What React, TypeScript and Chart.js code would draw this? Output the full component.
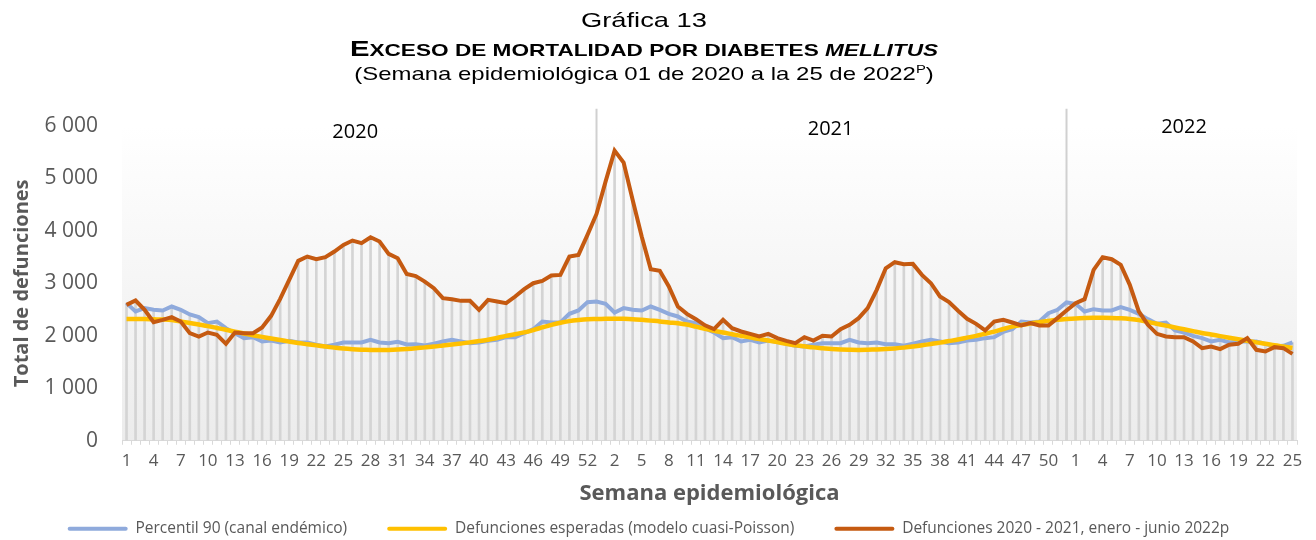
import React, { useEffect, useRef } from "react";
import { Chart, registerables } from "chart.js";

Chart.register(...registerables);

// ---- categories (epidemiological weeks) ----
const weeks2020 = Array.from({ length: 53 }, (_, i) => i + 1);
const weeks2021 = Array.from({ length: 52 }, (_, i) => i + 1);
const weeks2022 = Array.from({ length: 25 }, (_, i) => i + 1);
const categories = [...weeks2020, ...weeks2021, ...weeks2022].map(String);

const yearNames = ["2020", "2021", "2022"];

// ---- series ----
const percentil90 = [
  2623, 2464, 2528, 2496, 2483, 2559, 2496, 2407, 2356, 2242, 2273, 2146, 2051, 1956, 1975, 1892, 1911, 1873, 1905, 1873,
  1873, 1829, 1797, 1829, 1873, 1873, 1873, 1924, 1873, 1860, 1886, 1835, 1840,
  1816, 1848, 1892, 1924, 1892, 1860, 1873, 1905, 1924, 1975, 1975, 2051, 2127, 2273, 2254, 2254, 2419, 2483, 2642, 2654,
  2610, 2445, 2528, 2496, 2483, 2559, 2496, 2419, 2369, 2273, 2242, 2140,
  2063, 1956, 1975, 1892, 1924, 1873, 1911, 1880, 1848, 1810, 1797, 1829, 1860, 1860, 1860, 1924, 1873, 1860, 1873, 1841,
  1841, 1810, 1848, 1892, 1924, 1892, 1860, 1873, 1911, 1924, 1956, 1975, 2075,
  2127, 2273, 2254, 2273, 2432, 2496, 2636, 2610, 2464, 2508, 2483, 2483, 2547, 2496, 2419, 2318, 2229, 2254, 2102, 2063,
  2000, 1956, 1892, 1924, 1873, 1892, 1892, 1892, 1848, 1797, 1810, 1873,
];

const esperadas = [
  2320, 2320, 2320, 2315, 2310, 2300, 2275, 2245, 2215, 2185, 2150, 2115, 2080, 2045, 2010, 1980, 1950, 1920, 1890, 1862,
  1840, 1818, 1795, 1775, 1757, 1745, 1737, 1732, 1730, 1732, 1738, 1748, 1762,
  1780, 1795, 1815, 1835, 1855, 1875, 1900, 1925, 1960, 2000, 2030, 2065, 2110, 2160, 2210, 2250, 2280, 2300, 2315, 2320,
  2325, 2328, 2325, 2318, 2305, 2290, 2275, 2255, 2240, 2215, 2175, 2135,
  2095, 2065, 2030, 2000, 1970, 1940, 1910, 1880, 1850, 1820, 1800, 1780, 1765, 1750, 1740, 1735, 1732, 1735, 1740, 1748,
  1760, 1775, 1795, 1820, 1845, 1870, 1900, 1930, 1965, 2000, 2040, 2080, 2130,
  2175, 2205, 2235, 2260, 2285, 2305, 2320, 2332, 2340, 2345, 2345, 2342, 2335, 2322, 2300, 2265, 2230, 2195, 2160, 2125,
  2090, 2055, 2025, 1995, 1965, 1935, 1905, 1875, 1850, 1820, 1795, 1770,
];

const defunciones = [
  2591, 2673, 2496, 2261, 2305, 2356, 2273, 2051, 1987, 2063, 2019, 1848, 2063, 2051, 2051, 2159, 2381, 2705, 3067, 3429,
  3511, 3461, 3499, 3607, 3734, 3817, 3766, 3880, 3798, 3562, 3480, 3181, 3140,
  3035, 2908, 2718, 2699, 2667, 2667, 2496, 2686, 2654, 2623, 2750, 2889, 3003, 3048, 3150, 3162, 3511, 3543, 3924, 4324,
  4940, 5531, 5302, 4591, 3892, 3270, 3239, 2940, 2559, 2419, 2318, 2200,
  2127, 2305, 2146, 2083, 2038, 1987, 2038, 1956, 1905, 1860, 1975, 1911, 2000, 1987, 2127, 2210, 2337, 2528, 2877, 3289,
  3404, 3366, 3372, 3162, 3003, 2750, 2642, 2477, 2324, 2229, 2102, 2273, 2305,
  2254, 2197, 2242, 2197, 2197, 2337, 2483, 2623, 2699, 3258, 3499, 3461, 3353, 2972, 2464, 2210, 2038, 1987, 1975, 1975,
  1892, 1765, 1797, 1746, 1829, 1848, 1956, 1733, 1702, 1784, 1765, 1657,
];

const yTicks = [0, 1000, 2000, 3000, 4000, 5000, 6000];

// drop lines reach the highest of the three series at each week
const dropLineTop = categories.map((_, i) => Math.max(percentil90[i], esperadas[i], defunciones[i]));

const FONT = "'Open Sans', sans-serif";
const GRAY = "#595959";

const decorPlugin = {
  id: "decor",
  beforeDraw(chart: any) {
    const { ctx, chartArea: a } = chart;
    ctx.save();
    const g = ctx.createLinearGradient(0, a.top, 0, a.bottom);
    g.addColorStop(0, "#ffffff");
    g.addColorStop(1, "#ececec");
    ctx.fillStyle = g;
    ctx.fillRect(a.left, a.top, a.right - a.left, a.bottom - a.top);
    ctx.restore();
  },
  beforeDatasetsDraw(chart: any, _args: any, opts: any) {
    const { ctx, scales } = chart;
    ctx.save();
    ctx.strokeStyle = "#d0d0d0";
    ctx.lineWidth = 2;
    for (const idx of opts.separators) {
      const x = scales.x.getPixelForValue(idx);
      ctx.beginPath();
      ctx.moveTo(x, scales.y.getPixelForValue(0));
      ctx.lineTo(x, scales.y.getPixelForValue(opts.separatorTop));
      ctx.stroke();
    }
    ctx.restore();
  },
  afterDatasetsDraw(chart: any, _args: any, opts: any) {
    const { ctx, scales } = chart;
    ctx.save();
    ctx.fillStyle = "#000000";
    ctx.font = `20px ${FONT}`;
    ctx.textAlign = "center";
    ctx.textBaseline = "middle";
    opts.years.forEach((y: any, i: number) => {
      ctx.fillText(yearNames[i], scales.x.getPixelForValue(y.at), scales.y.getPixelForValue(y.value));
    });
    ctx.restore();
  },
};

export default function App() {
  const ref = useRef<HTMLCanvasElement | null>(null);

  useEffect(() => {
    if (!ref.current) return;
    const chart = new Chart(ref.current, {
      type: "bar",
      data: {
        labels: categories,
        datasets: [
          {
            type: "line",
            label: "Percentil 90 (canal endémico)",
            data: percentil90,
            borderColor: "#8FAADC",
            backgroundColor: "#8FAADC",
            borderWidth: 4,
            pointRadius: 0,
            tension: 0,
            order: 3,
          } as any,
          {
            type: "line",
            label: "Defunciones esperadas (modelo cuasi-Poisson)",
            data: esperadas,
            borderColor: "#FFC000",
            backgroundColor: "#FFC000",
            borderWidth: 4.5,
            pointRadius: 0,
            tension: 0.3,
            order: 2,
          } as any,
          {
            type: "line",
            label: "Defunciones 2020 - 2021, enero - junio 2022p",
            data: defunciones,
            borderColor: "#C55A11",
            backgroundColor: "#C55A11",
            borderWidth: 4,
            pointRadius: 0,
            tension: 0,
            order: 1,
          } as any,
          {
            type: "bar",
            label: "drop",
            data: dropLineTop,
            backgroundColor: "#d4d4d4",
            barThickness: 2,
            order: 4,
          } as any,
        ],
      },
      options: {
        responsive: false,
        animation: false,
        devicePixelRatio: 1,
        layout: { padding: { top: 126, right: 19, left: 0, bottom: 0 } },
        plugins: {
          title: { display: false },
          tooltip: { enabled: false },
          legend: {
            position: "bottom",
            maxHeight: 59,
            labels: {
              font: { family: FONT, size: 15.5 },
              color: GRAY,
              boxWidth: 60,
              boxHeight: 4,
              padding: 40,
              useBorderRadius: true,
              borderRadius: 2,
              sort: (a: any, b: any) => a.datasetIndex - b.datasetIndex,
              filter: (item: any) => item.text !== "drop",
              generateLabels: (c: any) =>
                Chart.defaults.plugins.legend.labels
                  .generateLabels(c)
                  .map((l: any) => ({ ...l, fillStyle: l.strokeStyle, lineWidth: 0 })),
            },
          },
          decor: {
            separators: [52, 104],
            separatorTop: 6330,
            years: [
              { at: 25.3, value: 5886 },
              { at: 77.9, value: 5943 },
              { at: 117.0, value: 5971 },
            ],
          },
        } as any,
        scales: {
          x: {
            offset: true,
            grid: {
              display: true,
              drawOnChartArea: false,
              drawTicks: true,
              tickLength: 4,
              color: "#d9d9d9",
              offset: true,
            },
            border: { display: true, color: "#d9d9d9", width: 1 },
            ticks: {
              autoSkip: false,
              maxRotation: 0,
              minRotation: 0,
              padding: 6,
              font: { family: FONT, size: 17 },
              color: GRAY,
              callback: (_v: any, i: number) => (i % 3 === 0 ? categories[i] : ""),
            },
            title: {
              display: true,
              text: "Semana epidemiológica",
              font: { family: FONT, size: 22, weight: "bold" },
              color: GRAY,
              padding: { top: 0, bottom: -26 },
            },
            afterFit: (s: any) => {
              s.height = 40.25;
            },
          },
          y: {
            min: 0,
            max: 6000,
            afterBuildTicks: (s: any) => {
              s.ticks = yTicks.map((v) => ({ value: v }));
            },
            grid: { display: false, drawTicks: false },
            border: { display: false },
            ticks: {
              padding: 24,
              font: { family: FONT, size: 21 },
              color: GRAY,
              callback: (v: any) => (v === 0 ? "0" : `${v / 1000} 000`),
            },
            title: {
              display: true,
              text: "Total de defunciones",
              font: { family: FONT, size: 20, weight: "bold" },
              color: GRAY,
              padding: { top: 10, bottom: 0 },
            },
            afterFit: (s: any) => {
              s.width = 122;
            },
          },
        },
      },
      plugins: [decorPlugin],
    });
    return () => chart.destroy();
  }, []);

  const titleFont = "'Liberation Sans', Arial, sans-serif";
  const lineStyle: React.CSSProperties = {
    position: "absolute",
    left: 0,
    width: 1288,
    textAlign: "center",
    fontFamily: titleFont,
    lineHeight: "24px",
    color: "#000",
    transformOrigin: "644px 50%",
    whiteSpace: "nowrap",
  };
  return (
    <div
      style={{
        position: "absolute",
        left: 0,
        top: 0,
        width: 1316,
        height: 540,
        background: "#ffffff",
        overflow: "hidden",
      }}
    >
      <canvas ref={ref} width={1316} height={540} style={{ position: "absolute", left: 0, top: 0 }} />
      <div style={{ ...lineStyle, top: 8, fontSize: 21, transform: "scaleX(1.3)" }}>Gráfica 13</div>
      <div style={{ ...lineStyle, top: 37, fontWeight: "bold", transform: "scaleX(1.33)" }}>
        <span style={{ fontSize: 22 }}>E</span>
        <span style={{ fontSize: 17 }}>XCESO DE MORTALIDAD POR DIABETES </span>
        <i style={{ fontSize: 17 }}>MELLITUS</i>
      </div>
      <div style={{ ...lineStyle, top: 62, fontSize: 19, transform: "scaleX(1.26)" }}>
        (Semana epidemiológica 01 de 2020 a la 25 de 2022
        <sup style={{ fontSize: "0.62em", lineHeight: 0, verticalAlign: "super" }}>P</sup>)
      </div>
    </div>
  );
}
